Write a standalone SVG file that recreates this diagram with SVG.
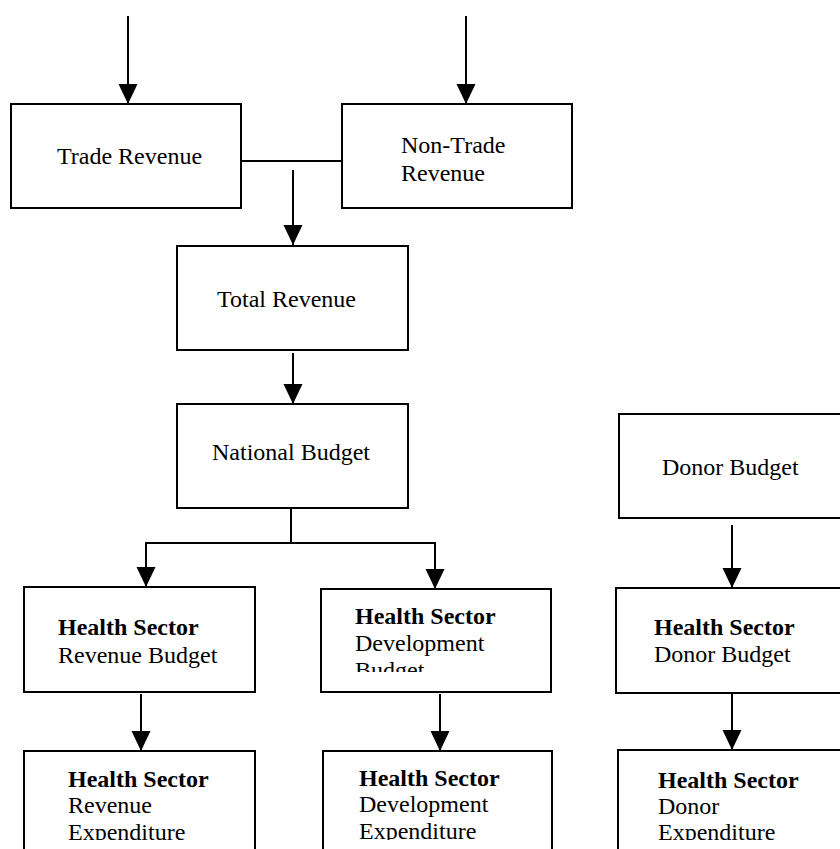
<svg xmlns="http://www.w3.org/2000/svg" width="840" height="849" viewBox="0 0 840 849">
  <style>
    .box { fill: #ffffff; stroke: #000000; stroke-width: 2; }
    .ln { fill: none; stroke: #000000; stroke-width: 2; }
    .arr { fill: none; stroke: #000000; stroke-width: 2; marker-end: url(#ah); }
    text { font-family: "Liberation Serif", "Times New Roman", serif; font-size: 24px; fill: #000000; }
    .b { font-weight: bold; }
  </style>
  <defs>
    <marker id="ah" markerUnits="userSpaceOnUse" markerWidth="21" markerHeight="20" refX="20" refY="9.5" orient="auto">
      <path d="M0,0 L20,9.5 L0,19 Z" fill="#000000"/>
    </marker>
    <clipPath id="clipDev"><rect x="322" y="590" width="228" height="82"/></clipPath>
    <clipPath id="clipExp"><rect x="0" y="752" width="840" height="88"/></clipPath>
  </defs>
  <rect width="840" height="849" fill="#ffffff"/>

  <g id="connectors">
    <line class="arr" x1="128" y1="16" x2="128" y2="104"/>
    <line class="arr" x1="466" y1="16" x2="466" y2="104"/>
    <line class="ln" x1="241" y1="161" x2="342" y2="161"/>
    <line class="arr" x1="293" y1="170" x2="293" y2="245"/>
    <line class="arr" x1="293" y1="353" x2="293" y2="404"/>
    <line class="ln" x1="291" y1="509" x2="291" y2="543"/>
    <line class="ln" x1="145" y1="543" x2="436" y2="543"/>
    <line class="arr" x1="146" y1="543" x2="146" y2="587"/>
    <line class="arr" x1="435" y1="543" x2="435" y2="589"/>
    <line class="arr" x1="141" y1="694" x2="141" y2="751"/>
    <line class="arr" x1="440" y1="694" x2="440" y2="751"/>
    <line class="arr" x1="732" y1="525" x2="732" y2="588"/>
    <line class="arr" x1="732" y1="694" x2="732" y2="750"/>
  </g>

  <g id="trade-revenue">
    <rect class="box" x="11" y="104" width="230" height="104"/>
    <text x="57" y="164">Trade Revenue</text>
  </g>
  <g id="non-trade-revenue">
    <rect class="box" x="342" y="104" width="230" height="104"/>
    <text x="401" y="153">Non-Trade</text>
    <text x="401" y="181">Revenue</text>
  </g>
  <g id="total-revenue">
    <rect class="box" x="177" y="246" width="231" height="104"/>
    <text x="217" y="307">Total Revenue</text>
  </g>
  <g id="national-budget">
    <rect class="box" x="177" y="404" width="231" height="104"/>
    <text x="212" y="460">National Budget</text>
  </g>
  <g id="donor-budget">
    <rect class="box" x="619" y="414" width="240" height="104"/>
    <text x="662" y="475">Donor Budget</text>
  </g>
  <g id="hs-revenue-budget">
    <rect class="box" x="24" y="587" width="231" height="105"/>
    <text class="b" x="58" y="635">Health Sector</text>
    <text x="58" y="663">Revenue Budget</text>
  </g>
  <g id="hs-development-budget">
    <rect class="box" x="321" y="589" width="230" height="103"/>
    <text class="b" x="355" y="624">Health Sector</text>
    <text x="355" y="651">Development</text>
    <text x="355" y="678" clip-path="url(#clipDev)">Budget</text>
  </g>
  <g id="hs-donor-budget">
    <rect class="box" x="616" y="588" width="240" height="105"/>
    <text class="b" x="654" y="635">Health Sector</text>
    <text x="654" y="662">Donor Budget</text>
  </g>
  <g id="hs-revenue-expenditure">
    <rect class="box" x="24" y="751" width="231" height="120"/>
    <text class="b" x="68" y="787">Health Sector</text>
    <text x="68" y="813">Revenue</text>
    <text x="68" y="840" clip-path="url(#clipExp)">Expenditure</text>
  </g>
  <g id="hs-development-expenditure">
    <rect class="box" x="323" y="751" width="229" height="120"/>
    <text class="b" x="359" y="786">Health Sector</text>
    <text x="359" y="812">Development</text>
    <text x="359" y="839" clip-path="url(#clipExp)">Expenditure</text>
  </g>
  <g id="hs-donor-expenditure">
    <rect class="box" x="618" y="750" width="240" height="120"/>
    <text class="b" x="658" y="788">Health Sector</text>
    <text x="658" y="814">Donor</text>
    <text x="658" y="840" clip-path="url(#clipExp)">Expenditure</text>
  </g>
</svg>
